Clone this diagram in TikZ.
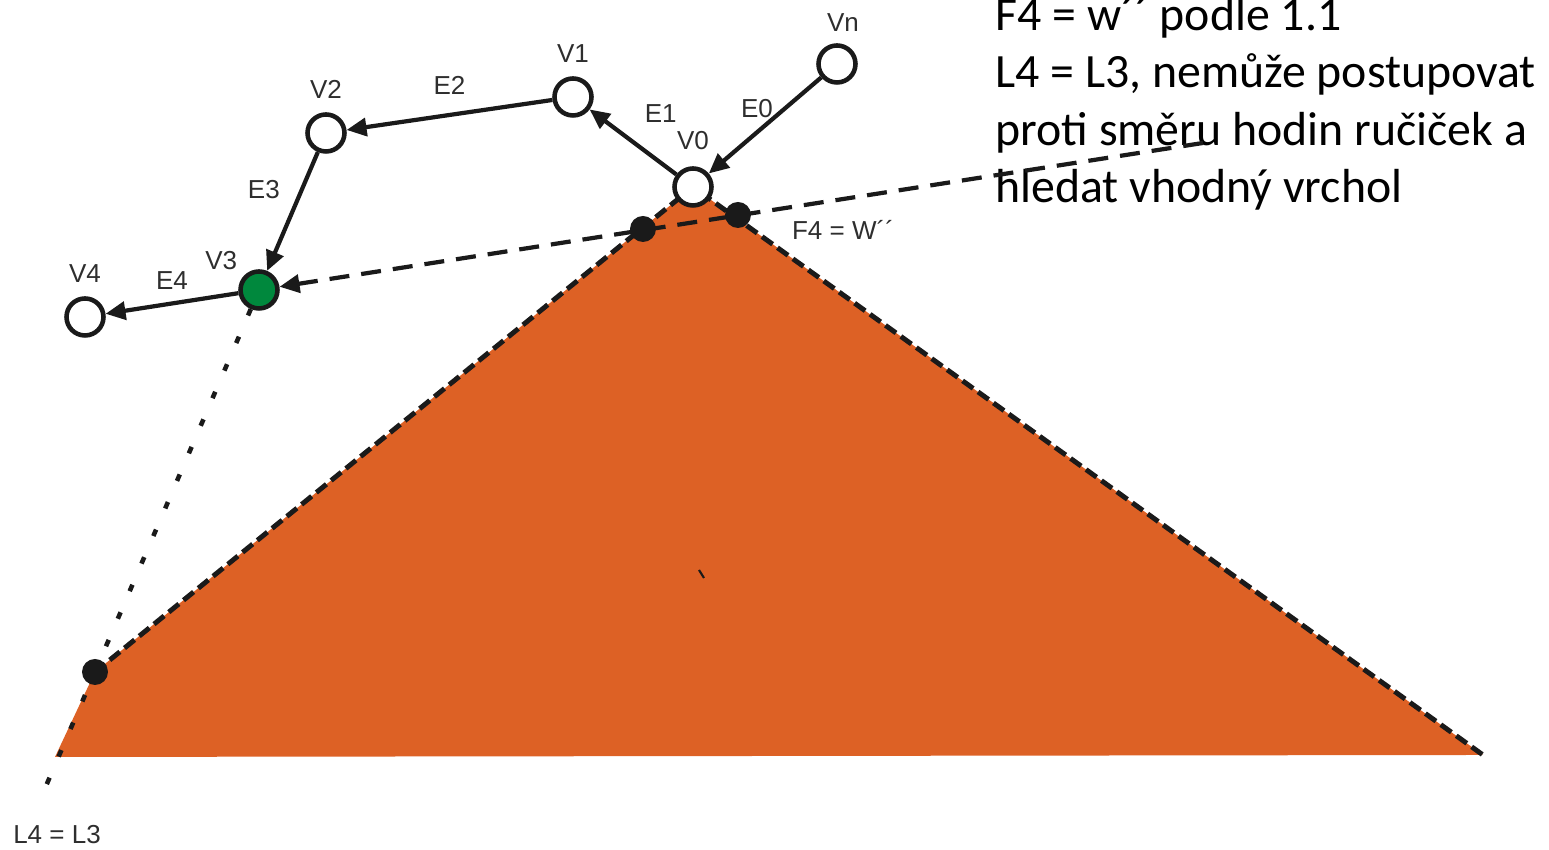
\documentclass[tikz,border=0pt]{standalone}
\usepackage{fontspec}
\setmainfont{Carlito}
\newfontfamily\arialfont{Liberation Sans}
\usetikzlibrary{arrows.meta, positioning}
\definecolor{area}{HTML}{DD6125}
\definecolor{hit}{HTML}{00883D}
\definecolor{ink}{HTML}{1A1A1A}
\definecolor{labgray}{HTML}{2E2E2E}

\begin{document}
\begin{tikzpicture}[
      v/.style={circle, draw=ink, line width=1.3pt, fill=white,
                minimum size=0.37cm, inner sep=0pt},
      pt/.style={circle, fill=ink, minimum size=0.26cm, inner sep=0pt},
      lab/.style={font=\arialfont\fontsize{7.4}{8.8}\selectfont, text=labgray, inner sep=1pt},
      ar/.style={-{Triangle[length=2mm, width=1.8mm]}, line width=1.2pt, draw=ink},
      hull/.style={line width=1.4pt, draw=ink, dash pattern=on 0.13cm off 0.06cm},
      ray/.style={ar, dash pattern=on 0.2cm off 0.12cm},
      dotline/.style={line width=1.3pt, draw=ink, dash pattern=on 0.07cm off 0.23cm}
    ]
    \useasboundingbox (0,0) rectangle (15.49,8.5);

    \coordinate (bl)   at (0.55,0.93);
    \coordinate (cl)   at (0.95,1.78);
    \coordinate (apex) at (6.93,6.63);
    \coordinate (br)   at (14.83,0.95);
    \coordinate (rend) at (12.03,7.07);
    \coordinate (lend) at (0.40,0.50);

    % area
    \fill[area] (bl) -- (cl) -- (apex) -- (br) -- cycle;
    \draw[hull] (cl) -- (apex) -- (br);
    \draw[line width=0.6pt, ink] (6.99,2.80) -- (7.04,2.72);

    \node[anchor=base west, align=left, font=\fontsize{13.6}{16.4}\selectfont] (note) at (9.83,6.47)
      {F4 = w´´ podle 1.1\\L4 = L3, nemůže postupovat\\proti směru hodin ručiček a\\hledat vhodný vrchol};

    % vertices
    \node[v, label={[lab, label distance=1.2mm]90:V0}] (v0) at (apex) {};
    \node[v, label={[lab, label distance=0.9mm]90:V1}] (v1) at (5.73,7.53) {};
    \node[v, label={[lab, label distance=0.9mm]90:V2}] (v2) at (3.26,7.17) {};
    \node[v, fill=hit, label={[lab, label distance=0.3mm]138:V3}] (v3) at (2.59,5.60) {};
    \node[v, label={[lab, label distance=0.9mm]90:V4}] (v4) at (0.85,5.33) {};
    \node[v, label={[lab, label distance=0.7mm, xshift=0.06cm]90:Vn}] (vn) at (8.37,7.86) {};

    \draw[dotline] (v3) -- (lend);
    \draw[ray] (rend) -- (v3);
    \node[pt] (pa) at (6.43,6.21) {};
    \node[pt] (pb) at (7.38,6.35) {};
    \node[pt] (pc) at (cl) {};

    \draw[ar] (vn) -- node[lab, above=0.02cm, xshift=-0.08cm] {E0} (v0);
    \draw[ar] (v0) -- node[lab, pos=0.55, above right=0.15cm] {E1} (v1);
    \draw[ar] (v1) -- node[lab, above=0.15cm] {E2} (v2);
    \draw[ar] (v2) -- node[lab, above left=0.1cm] {E3} (v3);
    \draw[ar] (v3) -- node[lab, above=0.08cm] {E4} (v4);

    \node[lab] (fw) at (8.43,6.20) {F4 = W´´};
    \node[lab] (ll) at (0.57,0.15) {L4 = L3};
  \end{tikzpicture}
\end{document}
